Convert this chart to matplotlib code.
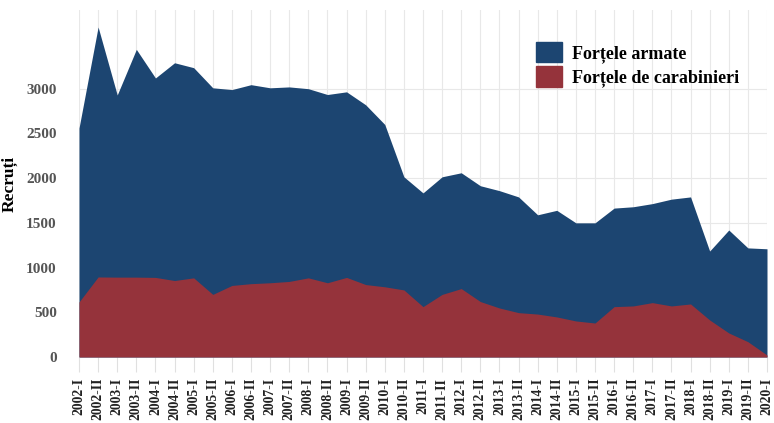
import numpy as np
import matplotlib.pyplot as plt
from matplotlib.patches import Patch

plt.rcParams['font.family'] = ['Liberation Serif', 'DejaVu Serif']

# semesters 2002-I .. 2020-I
periods = []
for year in range(2002, 2021):
    periods.append(f"{year}-I")
    if year < 2020:
        periods.append(f"{year}-II")

armate = [2560, 3690, 2930, 3440, 3120, 3290, 3235, 3010, 2990, 3045,
          3010, 3020, 3000, 2935, 2965, 2820, 2600, 2015, 1835, 2015,
          2060, 1915, 1860, 1790, 1590, 1640, 1500, 1500, 1665, 1680,
          1715, 1765, 1790, 1185, 1420, 1220, 1210]
carabinieri = [615, 895, 893, 893, 890, 855, 885, 700, 800, 820,
               830, 845, 885, 830, 890, 810, 785, 750, 563, 700,
               765, 620, 548, 496, 480, 448, 403, 380, 563, 571,
               608, 571, 593, 414, 269, 171, 22]

blue = "#1c4571"
red = "#95333b"

fig = plt.figure(figsize=(7.74, 4.23), dpi=100)
ax = fig.add_axes([79 / 774, 1 - 357 / 423, 688 / 774, 347 / 423])

x = np.arange(len(periods))
ax.fill_between(x, 0, armate, color=blue, linewidth=0, zorder=2)
ax.fill_between(x, 0, carabinieri, color=red, linewidth=0, zorder=3)

ax.set_xlim(0, len(periods) - 1)
ax.set_ylim(0, 3880)
ax.set_yticks(range(0, 3001, 500))
ax.set_xticks(x)
ax.set_xticklabels(periods, rotation=90, fontsize=9.8, fontweight="bold",
                   color="#222222")
ax.tick_params(axis="x", length=11, color="#e0e0e0", pad=4)
ax.tick_params(axis="y", length=0, pad=16, labelsize=11,
               labelcolor="#555555")
for lab in ax.get_yticklabels():
    lab.set_fontweight("bold")

ax.grid(True, color="#e8e8e8", linewidth=0.8, zorder=0)
ax.set_axisbelow(True)
for s in ax.spines.values():
    s.set_visible(False)

ax.set_ylabel("Recruți", fontsize=12.5, fontweight="bold", labelpad=6)

handles = [Patch(color=blue), Patch(color=red)]
fig.legend(handles, ["Forțele armate", "Forțele de carabinieri"],
           loc="upper left", bbox_to_anchor=(536 / 774, 1 - 42 / 423),
           frameon=False, prop={"size": 13, "weight": "bold"},
           handlelength=1.45, handleheight=1.35, handletextpad=0.55,
           labelspacing=0.2, borderpad=0, borderaxespad=0)

fig.savefig("out.png", dpi=100)
